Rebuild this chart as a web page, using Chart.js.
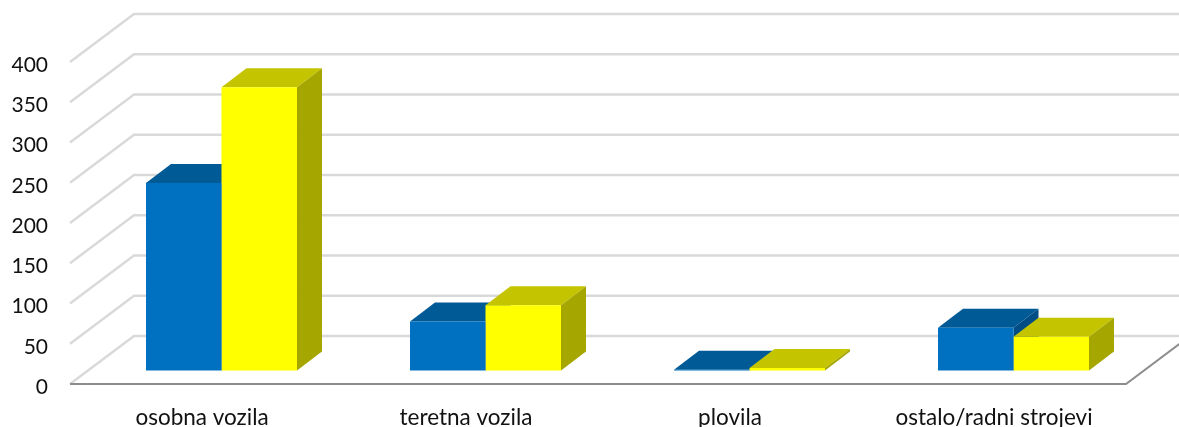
<!DOCTYPE html>
<html>
<head>
<meta charset="utf-8">
<style>html,body{margin:0;padding:0;background:#fff}canvas{display:block}</style>
<script src="https://cdn.jsdelivr.net/npm/chart.js@4"></script>
</head>
<body>
<canvas id="c" width="1179" height="427"></canvas>
<script>
const categories = ['osobna vozila', 'teretna vozila', 'plovila', 'ostalo/radni strojevi'];
const seriesBlue = [233, 61, 1, 53];
const seriesYellow = [352, 81, 3, 42];

const WALL_DX = 64, WALL_DY = 48;      // wall depth of the 3D frame
const BAR_SHIFT_X = 19.5, BAR_SHIFT_Y = -13.5; // bars stand inside the floor
const BAR_DX = 25, BAR_DY = 19;        // bar depth

const shades = [
  {front:'#0070C0', top:'#005A96', side:'#004D85'},
  {front:'#FFFF00', top:'#C4C400', side:'#A6A600'}
];

function poly(ctx, pts, fill){
  ctx.beginPath();
  pts.forEach((p,i)=> i ? ctx.lineTo(p[0],p[1]) : ctx.moveTo(p[0],p[1]));
  ctx.closePath();
  ctx.fillStyle = fill;
  ctx.fill();
}

const frame3d = {
  id:'frame3d',
  beforeDatasetsDraw(chart){
    const {ctx, chartArea:a, scales:{y}} = chart;
    const W = chart.width;
    ctx.save();
    ctx.lineCap = 'butt';
    ctx.strokeStyle = '#D9D9D9';
    ctx.lineWidth = 2.4;
    y.ticks.forEach(t=>{
      const py = y.getPixelForValue(t.value);
      ctx.beginPath();
      ctx.moveTo(a.left, py);
      ctx.lineTo(a.left+WALL_DX, py-WALL_DY);
      ctx.lineTo(W, py-WALL_DY);
      ctx.stroke();
    });
    ctx.strokeStyle = '#8C8C8C';
    ctx.lineWidth = 2;
    ctx.beginPath();
    ctx.moveTo(a.left, a.bottom);
    ctx.lineTo(a.right, a.bottom);
    ctx.lineTo(a.right+WALL_DX, a.bottom-WALL_DY);
    ctx.stroke();
    ctx.restore();

    ctx.save();
    ctx.translate(BAR_SHIFT_X, BAR_SHIFT_Y);
    chart.data.datasets.forEach((ds,di)=>{
      chart.getDatasetMeta(di).data.forEach(b=>{
        const p = b.getProps(['x','y','width','base'], true);
        const l = p.x-p.width/2, r = p.x+p.width/2, t = p.y, bt = p.base;
        poly(ctx, [[l,t],[l+BAR_DX,t-BAR_DY],[r+BAR_DX,t-BAR_DY],[r,t]], shades[di].top);
        poly(ctx, [[r,t],[r+BAR_DX,t-BAR_DY],[r+BAR_DX,bt-BAR_DY],[r,bt]], shades[di].side);
      });
    });
  },
  afterDatasetsDraw(chart){
    chart.ctx.restore();
  }
};

new Chart(document.getElementById('c'), {
  type:'bar',
  data:{
    labels:categories,
    datasets:[
      {data:seriesBlue, backgroundColor:shades[0].front, borderWidth:0, clip:false},
      {data:seriesYellow, backgroundColor:shades[1].front, borderWidth:0, clip:false}
    ]
  },
  options:{
    responsive:false,
    animation:false,
    layout:{padding:{top:62,right:53,left:0,bottom:0}},
    plugins:{legend:{display:false},tooltip:{enabled:false}},
    datasets:{bar:{categoryPercentage:0.572,barPercentage:1}},
    scales:{
      x:{
        grid:{display:false},border:{display:false},
        ticks:{color:'#111',font:{family:'Lato',size:22.5},padding:12,maxRotation:0,autoSkip:false},
        afterFit(s){s.height=43;}
      },
      y:{
        min:0,max:400,
        grid:{display:false},border:{display:false},
        ticks:{stepSize:50,color:'#111',font:{family:'Lato',size:21},padding:14,labelOffset:3},
        afterFit(s){s.width=70;}
      }
    }
  },
  plugins:[frame3d]
});
</script>
</body>
</html>
